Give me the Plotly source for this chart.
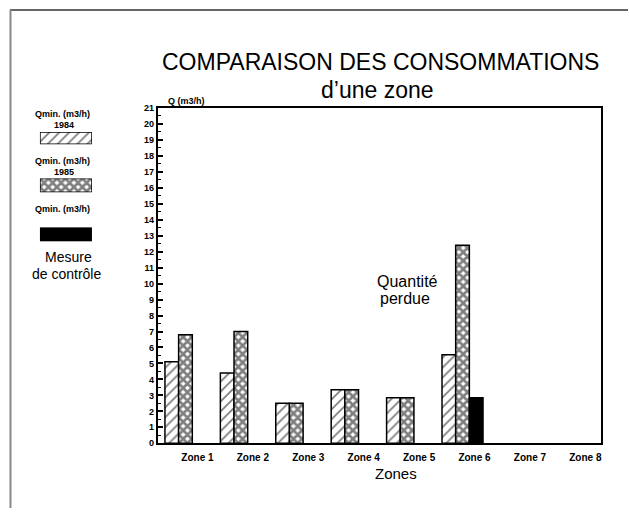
import plotly.graph_objects as go

# --- data -------------------------------------------------------------
zones = ["Zone 1", "Zone 2", "Zone 3", "Zone 4", "Zone 5", "Zone 6", "Zone 7", "Zone 8"]
qmin_1984 = [5.1, 4.4, 2.5, 3.35, 2.85, 5.55, None, None]
qmin_1985 = [6.8, 7.0, 2.5, 3.35, 2.85, 12.4, None, None]
qmin_controle = [None, None, None, None, None, 2.85, None, None]
y_ticks = list(range(0, 22))

W, H = 629, 513


def px_x(x):
    return x / W


def px_y(y):
    return 1 - y / H


TEXT_FONT = "Liberation Sans, Arial, Helvetica, sans-serif"

hatch = dict(shape="/", fgcolor="black", bgcolor="white", size=7, solidity=0.25)
cross = dict(shape="x", fgcolor="black", bgcolor="white", size=6, solidity=0.7)
edge = dict(color="black", width=1.5)

fig = go.Figure()

fig.add_trace(go.Bar(x=zones, y=qmin_1984, name="Qmin. (m3/h) 1984",
                     marker=dict(color="white", pattern=hatch, line=edge)))
fig.add_trace(go.Bar(x=zones, y=qmin_1985, name="Qmin. (m3/h) 1985",
                     marker=dict(color="white", pattern=cross, line=edge)))
fig.add_trace(go.Bar(x=zones, y=qmin_controle, name="Mesure de contrôle",
                     marker=dict(color="black", line=edge)))

# legend swatches, each in its own small frame
swatches = [
    (hatch, "white", 129.5, 142),
    (cross, "white", 177, 191),
    (None, "black", 227, 241),
]
for i, (pat, col, y0, y1) in enumerate(swatches, start=2):
    mk = dict(color=col, line=edge)
    if pat is not None:
        mk["pattern"] = pat
    fig.add_trace(go.Bar(x=[0.5], y=[1], width=[1], marker=mk,
                         xaxis=f"x{i}", yaxis=f"y{i}", hoverinfo="skip"))
    fig.update_layout(**{
        f"xaxis{i}": dict(domain=[px_x(40), px_x(92)], range=[0, 1], visible=False,
                          anchor=f"y{i}", fixedrange=True),
        f"yaxis{i}": dict(domain=[px_y(y1), px_y(y0)], range=[0, 1], visible=False,
                          anchor=f"x{i}", fixedrange=True),
    })

fig.update_layout(
    width=W, height=H,
    margin=dict(l=0, r=0, t=0, b=0),
    paper_bgcolor="white", plot_bgcolor="white",
    showlegend=False,
    barmode="group", bargap=0.26, bargroupgap=0,
    xaxis=dict(
        domain=[px_x(158), px_x(602)],
        type="category", range=[-0.5, 7.5],
        showline=True, linecolor="black", linewidth=2, mirror=True,
        ticks="", showgrid=False,
        tickfont=dict(family=TEXT_FONT, size=10, color="black", weight="bold"),
        ticklabelshift=12, ticklabelstandoff=4,
    ),
    yaxis=dict(
        domain=[px_y(447), px_y(105)],
        range=[0, 21], tickvals=y_ticks,
        showline=True, linecolor="black", linewidth=2, mirror=True,
        ticks="inside", ticklen=5, tickwidth=1.5, tickcolor="black",
        minor=dict(dtick=0.5, ticks="inside", ticklen=3, tickwidth=1, tickcolor="black"),
        showgrid=False, zeroline=False,
        tickfont=dict(family=TEXT_FONT, size=9, color="black", weight="bold"),
    ),
)

annotations = [
    dict(text="COMPARAISON DES CONSOMMATIONS", x=px_x(381), y=px_y(58),
         font=dict(family=TEXT_FONT, size=23, color="black")),
    dict(text="d\u2019une zone", x=px_x(378), y=px_y(87),
         font=dict(family=TEXT_FONT, size=23, color="black")),
    dict(text="Q (m3/h)", x=px_x(187), y=px_y(98),
         font=dict(family=TEXT_FONT, size=9, color="black", weight="bold")),
    dict(text="Qmin. (m3/h)", x=px_x(63), y=px_y(111),
         font=dict(family=TEXT_FONT, size=9, color="black", weight="bold")),
    dict(text="1984", x=px_x(64), y=px_y(122),
         font=dict(family=TEXT_FONT, size=9, color="black", weight="bold")),
    dict(text="Qmin. (m3/h)", x=px_x(63), y=px_y(159),
         font=dict(family=TEXT_FONT, size=9, color="black", weight="bold")),
    dict(text="1985", x=px_x(64), y=px_y(170),
         font=dict(family=TEXT_FONT, size=9, color="black", weight="bold")),
    dict(text="Qmin. (m3/h)", x=px_x(63), y=px_y(208),
         font=dict(family=TEXT_FONT, size=9, color="black", weight="bold")),
    dict(text="Mesure", x=px_x(69), y=px_y(257),
         font=dict(family=TEXT_FONT, size=14, color="black")),
    dict(text="de contrôle", x=px_x(67), y=px_y(274),
         font=dict(family=TEXT_FONT, size=14, color="black")),
    dict(text="Quantité", x=px_x(408), y=px_y(282),
         font=dict(family=TEXT_FONT, size=16, color="black")),
    dict(text="perdue", x=px_x(406), y=px_y(299),
         font=dict(family=TEXT_FONT, size=16, color="black")),
    dict(text="Zones", x=px_x(397), y=px_y(478),
         font=dict(family=TEXT_FONT, size=15, color="black")),
]
for a in annotations:
    a.update(xref="paper", yref="paper", showarrow=False,
             xanchor="center", yanchor="middle")
fig.update_layout(annotations=annotations)

# page frame
fig.update_layout(shapes=[
    dict(type="line", xref="paper", yref="paper",
         x0=px_x(10), x1=1, y0=px_y(5), y1=px_y(5),
         line=dict(color="#333333", width=1.5)),
    dict(type="line", xref="paper", yref="paper",
         x0=px_x(10.5), x1=px_x(10.5), y0=px_y(5), y1=0,
         line=dict(color="#888888", width=2)),
])

fig.write_html("out.html")
